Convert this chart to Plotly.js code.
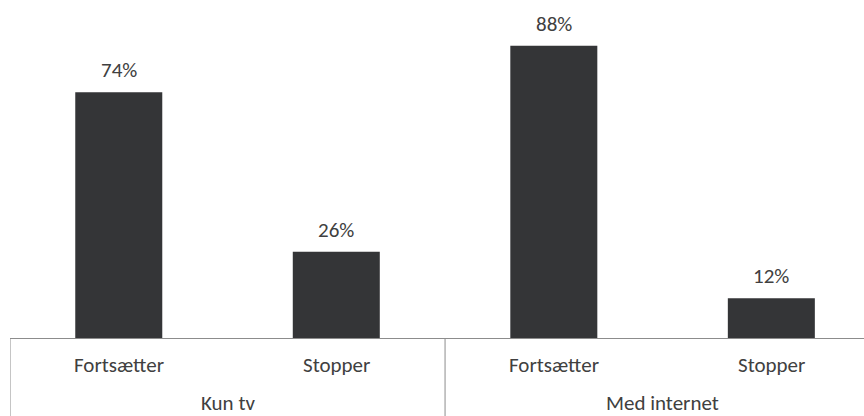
<!DOCTYPE html>
<html>
<head>
<meta charset="utf-8">
<script src="https://cdn.plot.ly/plotly-3.0.1.min.js"></script>
<style>
  html, body { margin: 0; padding: 0; background: #fff; }
  #chart { width: 864px; height: 416px; }
</style>
</head>
<body>
<div id="chart"></div>
<script>
// Share of viewers who continue or stop, by type of viewing
const groups = ["Kun tv", "Kun tv", "Med internet", "Med internet"];
const choices = ["Fortsætter", "Stopper", "Fortsætter", "Stopper"];
const shares = [74, 26, 88, 12];
const groupNames = ["Kun tv", "Med internet"];

const FONT = "Carlito, Lato, sans-serif";
const TEXT_COLOR = "#404040";
const LINE_COLOR = "#8c8c8c";
const BOTTOM_MARGIN = 78;
const PLOT_HEIGHT = 416 - 6 - BOTTOM_MARGIN;

const trace = {
  type: "bar",
  x: [groups, choices],
  y: shares,
  width: 0.4,
  marker: { color: "#343537", line: { width: 0 } },
  hoverinfo: "skip"
};

const labelFont = { family: FONT, size: 21, color: TEXT_COLOR };

// value labels above each bar
const valueLabels = shares.map((v, i) => ({
  x: i, y: v, xref: "x", yref: "y",
  text: v + "%", showarrow: false,
  yanchor: "bottom", yshift: 7,
  font: labelFont
}));

// first-level category labels under the axis
const choiceLabels = choices.map((c, i) => ({
  x: i, y: 0, xref: "x", yref: "paper",
  text: c, showarrow: false,
  yanchor: "middle", yshift: -27,
  font: labelFont
}));

// group labels, centred under each pair of bars
const groupLabels = groupNames.map((g, k) => ({
  x: 2 * k + 0.5, y: 0, xref: "x", yref: "paper",
  text: g, showarrow: false,
  yanchor: "middle", yshift: -65,
  font: labelFont
}));

// vertical dividers at group boundaries, running to the bottom edge
const dividerPositions = [-0.5, 1.5, 3.5];
const dividers = dividerPositions.map(p => ({
  type: "line", xref: "x", yref: "paper",
  x0: p, x1: p, y0: 0, y1: -BOTTOM_MARGIN / PLOT_HEIGHT,
  line: { color: LINE_COLOR, width: 1 }
}));

const layout = {
  width: 864,
  height: 416,
  margin: { l: 10, r: 0, t: 6, b: BOTTOM_MARGIN },
  paper_bgcolor: "#ffffff",
  plot_bgcolor: "#ffffff",
  showlegend: false,
  font: { family: FONT, size: 21, color: TEXT_COLOR },
  xaxis: {
    type: "multicategory",
    range: [-0.5, 3.426],
    showline: true,
    linecolor: LINE_COLOR,
    linewidth: 1,
    showgrid: false,
    zeroline: false,
    ticks: "",
    showticklabels: false,
    showdividers: false,
    fixedrange: true
  },
  yaxis: {
    range: [0, 100],
    visible: false,
    showgrid: false,
    zeroline: false,
    fixedrange: true
  },
  annotations: valueLabels.concat(choiceLabels, groupLabels),
  shapes: dividers
};

Plotly.newPlot("chart", [trace], layout, { displayModeBar: false, staticPlot: true });
</script>
</body>
</html>
